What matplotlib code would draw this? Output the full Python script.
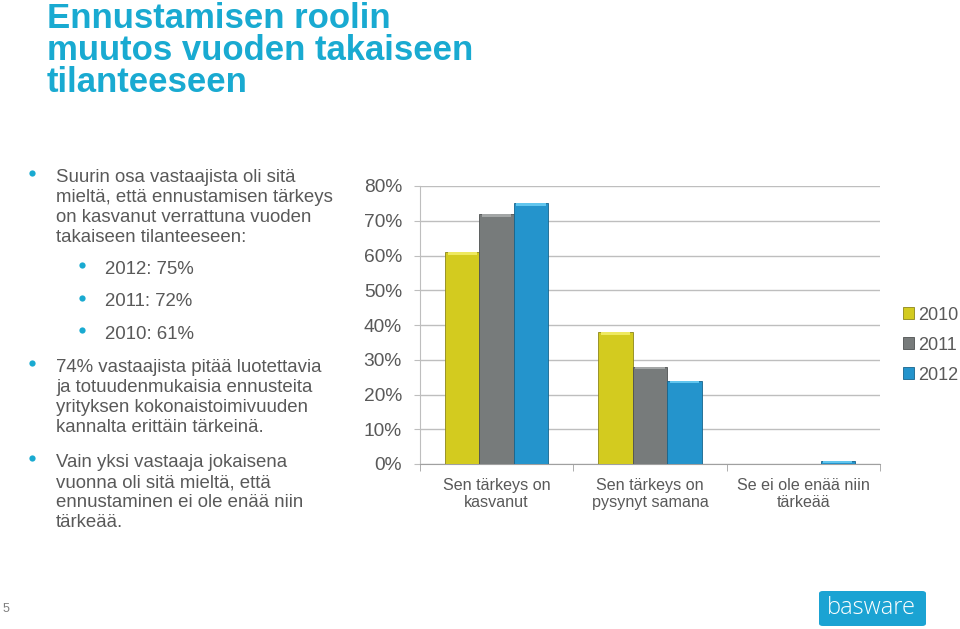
import matplotlib
matplotlib.use("Agg")
import matplotlib.pyplot as plt
import numpy as np
from matplotlib.patches import FancyBboxPatch, Patch
from matplotlib.lines import Line2D

categories = ["Sen tärkeys on\nkasvanut", "Sen tärkeys on\npysynyt samana", "Se ei ole enää niin\ntärkeää"]
series_names = ["2010", "2011", "2012"]
values_2010 = [61, 38, 0]
values_2011 = [72, 28, 0]
values_2012 = [75, 24, 1]
yticks = [0, 10, 20, 30, 40, 50, 60, 70, 80]

title_lines = ["Ennustamisen roolin", "muutos vuoden takaiseen", "tilanteeseen"]
bullet1 = ["Suurin osa vastaajista oli sitä", "mieltä, että ennustamisen tärkeys",
           "on kasvanut verrattuna vuoden", "takaiseen tilanteeseen:"]
sub_bullets = ["2012: 75%", "2011: 72%", "2010: 61%"]
bullet2 = ["74% vastaajista pitää luotettavia", "ja totuudenmukaisia ennusteita",
           "yrityksen kokonaistoimivuuden", "kannalta erittäin tärkeinä."]
bullet3 = ["Vain yksi vastaaja jokaisena", "vuonna oli sitä mieltä, että",
           "ennustaminen ei ole enää niin", "tärkeää."]

FONT = "Liberation Sans"
CYAN = "#19AAD1"
GRAY_TXT = "#595959"
colors = ["#D3CB1F", "#777B7B", "#2494CC"]
tops = ["#EEE960", "#A3A6A6", "#62C6EE"]
edges = ["#8C861A", "#4E5151", "#16648C"]

W, H = 960, 629
fig = plt.figure(figsize=(W / 100, H / 100), dpi=100)
fig.patch.set_facecolor("white")

def fx(x):
    return x / W

def fy(y):
    return 1 - y / H

# Title
for i, ln in enumerate(title_lines):
    fig.text(fx(47), fy(27.5 + i * 32.5), ln, fontsize=25, fontweight="bold", color=CYAN,
             family=FONT, va="baseline", ha="left")

def block(x_dot, x_text, y_first_base, lines, size=13.4, step=20):
    for i, ln in enumerate(lines):
        fig.text(fx(x_text), fy(y_first_base + i * step), ln, fontsize=size, color=GRAY_TXT,
                 family=FONT, va="baseline", ha="left")
    fig.add_artist(Line2D([fx(x_dot)], [fy(y_first_base - 9)], marker="o", markersize=4.5,
                          color=CYAN, markeredgewidth=0, transform=fig.transFigure))

block(32, 56, 182, bullet1)
for i, sb in enumerate(sub_bullets):
    block(82, 105, 274 + i * 32.5, [sb])
block(32, 56, 372, bullet2)
block(32, 56, 467, bullet3)

# Chart
ax = fig.add_axes([fx(420), fy(464), (880 - 420) / W, (464 - 186) / H])
x = np.arange(len(categories))
bw = 0.224
all_vals = [values_2010, values_2011, values_2012]
for i, vals in enumerate(all_vals):
    xs = x + (i - 1) * bw
    v = np.array(vals, dtype=float)
    ax.bar(xs, v, width=bw, color=colors[i], edgecolor=edges[i], linewidth=0.6, zorder=3)
    cap = np.minimum(v, 0.8)
    ax.bar(xs, cap, bottom=v - cap, width=bw * 0.86, color=tops[i], linewidth=0, zorder=4)

ax.set_xlim(-0.5, len(categories) - 0.5)
ax.set_ylim(0, 80)
ax.set_yticks(yticks)
ax.set_yticklabels([f"{t}%" for t in yticks], fontsize=13.8, color=GRAY_TXT, family=FONT)
ax.yaxis.grid(True, color="#BEBEBE", linewidth=1.0, zorder=0)
ax.set_axisbelow(True)
ax.set_xticks(x)
ax.set_xticklabels(categories, fontsize=11.6, color=GRAY_TXT, family=FONT, linespacing=1.15)
ax.tick_params(axis="x", length=0, pad=10)
ax.set_xticks(np.arange(-0.5, len(categories), 1.0), minor=True)
ax.tick_params(axis="x", which="minor", length=5, color="#A0A0A0", direction="out")
ax.tick_params(axis="y", length=4, color="#BEBEBE", pad=9)
for s in ["top", "right"]:
    ax.spines[s].set_visible(False)
ax.spines["left"].set_color("#BEBEBE")
ax.spines["bottom"].set_color("#A0A0A0")
ax.set_facecolor("white")

# Legend
handles = [Patch(facecolor=colors[i], edgecolor=edges[i], linewidth=0.6) for i in range(3)]
leg = fig.legend(handles, series_names, loc="center left", bbox_to_anchor=(fx(903), fy(345)),
                 frameon=False, prop={"family": FONT, "size": 13}, labelcolor=GRAY_TXT,
                 handlelength=0.6, handleheight=0.6, handletextpad=0.22, labelspacing=0.72,
                 borderpad=0, borderaxespad=0)

# Page number
fig.text(fx(3), fy(612), "5", fontsize=9, color="#7F7F7F", family=FONT, va="baseline")

# Logo
logo = FancyBboxPatch((fx(819), fy(626)), fx(107), (626 - 591) / H,
                      boxstyle="round,pad=0,rounding_size=0.004", transform=fig.transFigure,
                      facecolor="#1BA3D3", edgecolor="none")
fig.patches.append(logo)
fig.text(fx(871), fy(614), "basware", fontsize=17, color="white", family="Open Sans",
         ha="center", va="baseline", fontweight="light")

fig.savefig("out.png", dpi=100, facecolor="white")
